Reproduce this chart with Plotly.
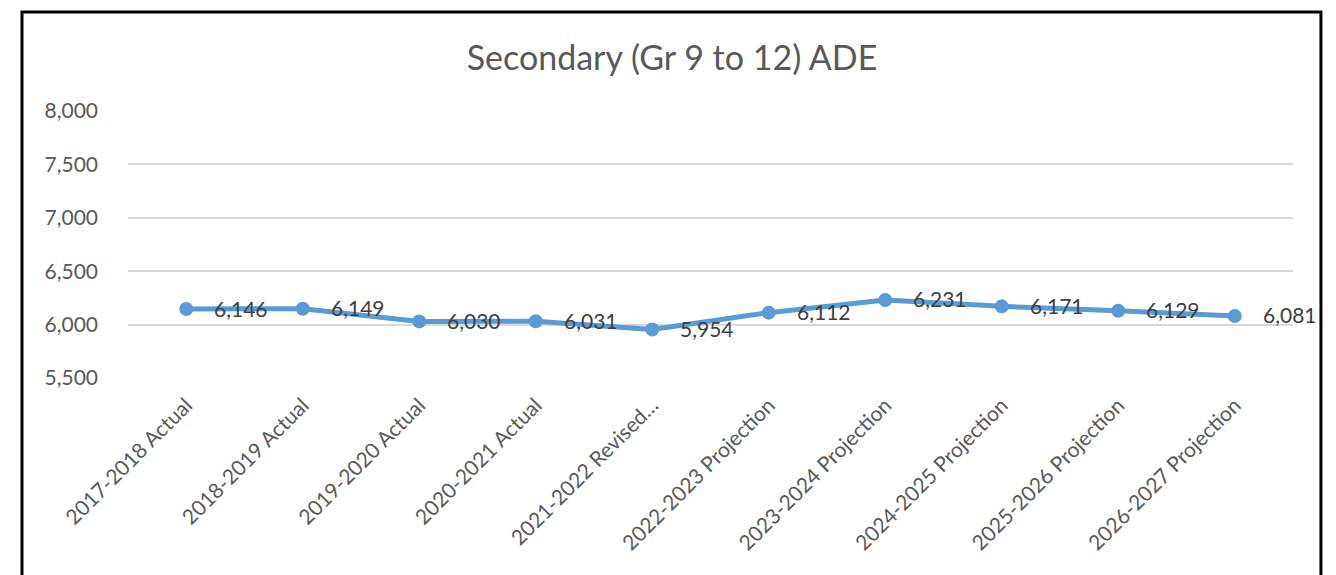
import plotly.graph_objs as go

# Data
years = ['2017-2018 Actual', '2018-2019 Actual', '2019-2020 Actual', '2020-2021 Actual',
         '2021-2022 Revised…', '2022-2023 Projection', '2023-2024 Projection',
         '2024-2025 Projection', '2025-2026 Projection', '2026-2027 Projection']
ade = [6146, 6149, 6030, 6031, 5954, 6112, 6231, 6171, 6129, 6081]
y_ticks = [5500, 6000, 6500, 7000, 7500, 8000]

font_family = 'Lato, Open Sans, sans-serif'
blue = '#5B9BD5'

fig = go.Figure()
fig.add_trace(go.Scatter(x=years, y=ade, mode='lines+markers',
                         line=dict(color=blue, width=5),
                         marker=dict(color=blue, size=14),
                         hoverinfo='x+y', showlegend=False))

# Data labels to the right of each point (like Excel "Right" labels)
for yr, val in zip(years, ade):
    fig.add_annotation(x=yr, y=val, text=f'{val:,}', showarrow=False,
                       xanchor='left', yanchor='middle', xshift=26, yshift=1,
                       font=dict(family=font_family, size=21, color='#404040'))

# Outer chart border
fig.add_shape(type='rect', xref='paper', yref='paper',
              x0=-0.091, x1=1.024, y0=-0.76, y1=1.371,
              line=dict(color='black', width=3), fillcolor='rgba(0,0,0,0)')

# page body has an 8px margin, so the figure is shifted/shrunk by 8px
fig.update_layout(
    width=1328, height=567,
    margin=dict(l=120, r=43, t=103, b=197),
    paper_bgcolor='white', plot_bgcolor='white',
    title=dict(text='Secondary (Gr 9 to 12) ADE', x=0.5, xanchor='center',
               y=1 - 50 / 567, yanchor='middle',
               font=dict(family=font_family, size=34, color='#595959')),
    xaxis=dict(type='category', range=[-0.5, 9.5], tickangle=-45,
               showgrid=False, showline=False, ticks='', ticklabelstandoff=10,
               tickfont=dict(family=font_family, size=21, color='#595959')),
    yaxis=dict(range=[5500, 8000], tickvals=y_ticks, tickformat=',',
               showgrid=True, gridcolor='#D9D9D9', gridwidth=1.5,
               zeroline=False, showline=False, ticks='', ticklabelstandoff=29,
               tickfont=dict(family=font_family, size=21, color='#595959')),
)

fig.write_html('out.html')
